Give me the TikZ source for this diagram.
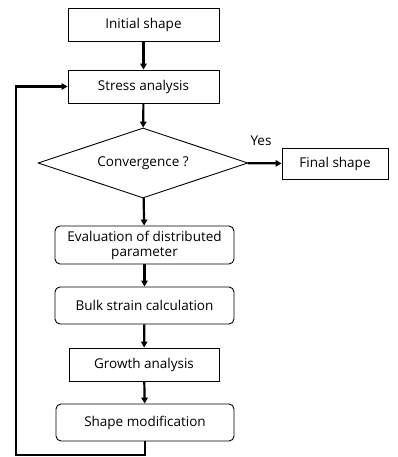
\documentclass[tikz,border=0pt]{standalone}
\usepackage{fontspec}
\setmainfont{Open Sans}
\usetikzlibrary{shapes.geometric,arrows.meta}

\begin{document}
\begin{tikzpicture}[x=1pt,y=-1pt,
    every node/.style={font=\fontsize{13.5}{16}\selectfont},
    box/.style={draw,line width=0.9pt,inner sep=0pt,minimum width=151pt,minimum height=33pt},
    rbox/.style={box,rounded corners=5pt,minimum width=179pt,minimum height=37pt,align=center},
    decide/.style={draw,line width=0.9pt,diamond,aspect=3,inner sep=0pt,minimum width=210pt,minimum height=70pt},
    flow/.style={line width=2.2pt,-{Triangle[length=6pt,width=6.5pt]}}]
  \useasboundingbox (0,0) rectangle (398,457);

  \node[box] (init) at (143.5,24.5) {Initial shape};
  \node[box] (stress) at (143.5,86.5) {Stress analysis};
  \node[decide] (conv) at (143,163) {Convergence ?};
  \node[box,minimum width=106pt,minimum height=31pt] (final) at (335,163.5) {Final shape};
  \node[rbox,minimum height=38pt] (eval) at (144.5,245) {Evaluation of distributed\\[-1pt]parameter};
  \node[rbox] (bulk) at (144.5,305.5) {Bulk strain calculation};
  \node[box,minimum width=150pt] (growth) at (144,364.5) {Growth analysis};
  \node[rbox,minimum width=178pt] (modif) at (145,422.5) {Shape modification};
  \node (yes) at (261,141) {Yes};
  \coordinate (back) at (16,455);

  \draw[flow] (init) -- (stress);
  \draw[flow] (stress) -- (conv);
  \draw[flow] (conv) -- (final);
  \draw[flow] (conv) -- (eval);
  \draw[flow] (eval) -- (bulk);
  \draw[flow] (bulk) -- (growth);
  \draw[flow] (growth) -- (modif);
  \draw[flow] (modif.south) |- (back) |- (stress.west);
\end{tikzpicture}
\end{document}
